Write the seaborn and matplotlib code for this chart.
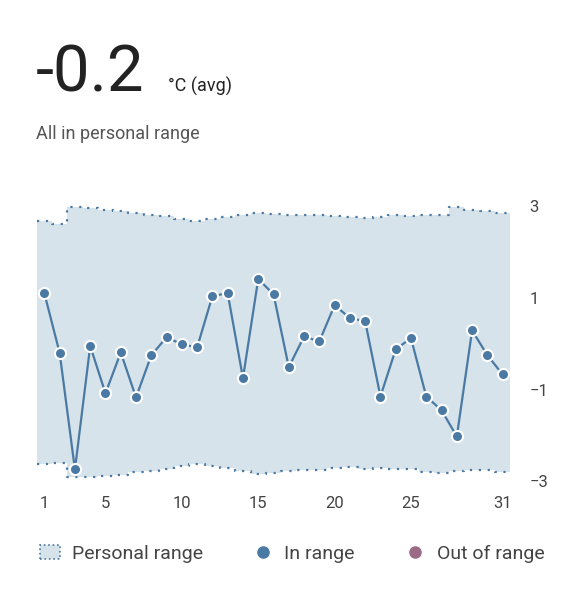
import numpy as np
import matplotlib.pyplot as plt
import seaborn as sns
from matplotlib.lines import Line2D
from matplotlib.patches import Patch

sns.set_style('white')
plt.rcParams['font.family'] = ['Roboto', 'DejaVu Sans']

days = list(range(1, 32))
temps = [1.1, -0.2, -2.74, -0.05, -1.08, -0.19, -1.17, -0.25, 0.14, -0.01, -0.08,
         1.04, 1.1, -0.75, 1.41, 1.08, -0.51, 0.16, 0.05, 0.84, 0.56, 0.49, -1.15,
         -0.12, 0.12, -1.15, -1.45, -2.02, 0.29, -0.25, -0.67]
upper = [2.68, 2.62, 2.98, 2.96, 2.92, 2.9, 2.85, 2.8, 2.78, 2.72, 2.68, 2.72, 2.76,
         2.8, 2.85, 2.83, 2.8, 2.8, 2.8, 2.78, 2.76, 2.74, 2.76, 2.8, 2.78, 2.8, 2.8,
         2.98, 2.92, 2.9, 2.84]
lower = [-2.62, -2.6, -2.9, -2.9, -2.88, -2.85, -2.8, -2.78, -2.74, -2.66, -2.62,
         -2.66, -2.7, -2.78, -2.84, -2.82, -2.78, -2.76, -2.75, -2.7, -2.68, -2.72,
         -2.7, -2.74, -2.74, -2.8, -2.82, -2.78, -2.76, -2.76, -2.8]
xticks = [1, 5, 10, 15, 20, 25, 31]
yticks = [-3, -1, 1, 3]

line_c = '#4a79a3'
band_c = '#d6e3ea'
edge_c = '#4a79a3'

fig = plt.figure(figsize=(5.74, 6), dpi=100)
ax = fig.add_axes([0.064, 0.19, 0.825, 0.478])

# step-style personal range band
xs = np.array(days, dtype=float)
xe = np.concatenate([xs - 0.5, [xs[-1] + 0.5]])
ue = np.concatenate([upper, [upper[-1]]])
le = np.concatenate([lower, [lower[-1]]])
ax.fill_between(xe, le, ue, step='post', color=band_c, lw=0)
ax.step(xe, ue, where='post', color=edge_c, lw=1.6, ls=(0, (1, 3)))
ax.step(xe, le, where='post', color=edge_c, lw=1.6, ls=(0, (1, 3)))

sns.lineplot(x=days, y=temps, ax=ax, color=line_c, lw=1.6, marker='o',
             markersize=8, markeredgecolor='white', markeredgewidth=1.5)

ax.set_xlim(0.5, 31.5)
ax.set_ylim(-3.1, 3.15)
ax.set_xticks(xticks)
ax.set_yticks(yticks)
ax.yaxis.tick_right()
ax.tick_params(axis='x', length=4, color='#555555', labelsize=12, labelcolor='#444444')
ax.tick_params(axis='y', length=0, labelsize=12, labelcolor='#444444', pad=14)
for s in ax.spines.values():
    s.set_visible(False)
ax.set_xlabel('')
ax.set_ylabel('')

fig.text(0.063, 0.847, '-0.2', fontsize=47, color='#222222', va='baseline')
fig.text(0.293, 0.847, '°C (avg)', fontsize=13, color='#222222', va='baseline')
fig.text(0.063, 0.768, 'All in personal range', fontsize=13, color='#555555', va='baseline')

handles = [
    Patch(facecolor=band_c, edgecolor=edge_c, ls=':', lw=1.2),
    Line2D([], [], marker='o', ls='', color=line_c, markersize=8),
    Line2D([], [], marker='o', ls='', color='#9b6a87', markersize=8),
]
fig.legend(handles, ['Personal range', 'In range', 'Out of range'],
           loc='center left', bbox_to_anchor=(0.04, 0.077), ncol=3, frameon=False,
           fontsize=14, labelcolor='#444444', handlelength=1.0,
           handletextpad=0.6, columnspacing=2.6)

fig.savefig('out.png', dpi=100)
